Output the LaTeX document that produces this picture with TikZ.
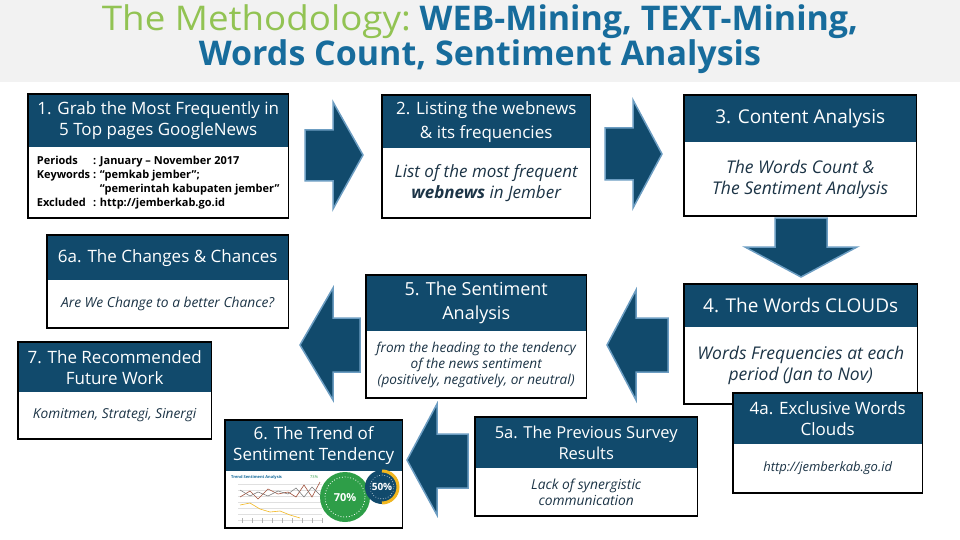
\documentclass[tikz,border=0pt]{standalone}
\usepackage{fontspec}
\setmainfont{Open Sans}
\usetikzlibrary{positioning}
\definecolor{cHead}{HTML}{114A6C}
\definecolor{cEdge}{HTML}{6C9DC2}
\definecolor{cTitleGreen}{HTML}{92C353}
\definecolor{cTitleBlue}{HTML}{176C9C}
\definecolor{cBody}{HTML}{1C3446}
\definecolor{cBand}{HTML}{F2F2F2}
\definecolor{cGreen}{HTML}{2E9E48}
\definecolor{cGold}{HTML}{F2B71F}
\definecolor{cLineRed}{HTML}{A0523D}

\tikzset{
  headbox/.style={fill=cHead, text=white, inner sep=2pt, align=center, anchor=north west,
    font=\fontsize{17}{21}\selectfont},
  bodybox/.style={fill=white, text=cBody, inner sep=2pt, align=center, below=0pt of #1,
    font=\fontsize{13.8}{16}\selectfont\itshape},
  frame/.style={draw=black, line width=1.8pt},
  blockarrow/.style={fill=cHead, draw=cEdge, line width=1.5pt, line join=miter},
}

\begin{document}
\begin{tikzpicture}[x=1pt, y=-1pt]
\useasboundingbox (0,0) rectangle (960,540);

% Title band
\fill[cBand] (0,0) rectangle (960,82);
\node[font=\fontsize{34}{36}\selectfont] (title1) at (480,22)
  {\textcolor{cTitleGreen}{\scalebox{1.08}[1]{The Methodology:}} \textcolor{cTitleBlue}{\bfseries WEB-Mining, TEXT-Mining,}};
\node[font=\fontsize{34}{36}\selectfont\bfseries, text=cTitleBlue] (title2) at (480,57)
  {Words Count, Sentiment Analysis};

% Block arrows
\draw[blockarrow] (305,130) -- (333,130) -- (333,102) -- (363,155) -- (333,209) -- (333,181) -- (305,181) -- cycle;
\draw[blockarrow] (605,128) -- (633,128) -- (633,100) -- (662,154) -- (633,208) -- (633,180) -- (605,180) -- cycle;
\draw[blockarrow] (775,218) -- (827,218) -- (827,247) -- (857,247) -- (801,277) -- (745,247) -- (775,247) -- cycle;
\draw[blockarrow] (668,318) -- (636,318) -- (636,290) -- (607,345) -- (636,400) -- (636,372) -- (668,372) -- cycle;
\draw[blockarrow] (360,318) -- (333,318) -- (333,288) -- (300,345) -- (333,400) -- (333,372) -- (360,372) -- cycle;
\draw[blockarrow] (468,434) -- (437,434) -- (437,404) -- (407,460) -- (437,515) -- (437,488) -- (468,488) -- cycle;

% 1. Grab
\node[headbox, minimum width=260pt, minimum height=53pt] (h1) at (28,94)
  {1. Grab the Most Frequently in\\5 Top pages GoogleNews};
\node[bodybox=h1, minimum width=260pt, minimum height=70pt, text=black,
  font=\fontsize{11}{14}\selectfont\bfseries] (b1)
  {\begin{tabular}{@{}l@{\ }l@{}}
   Periods & : January – November 2017\\
   Keywords & : “pemkab jember”;\\
            & \phantom{: }“pemerintah kabupaten jember”\\
   Excluded & : http://jemberkab.go.id
   \end{tabular}};
\draw[frame] (h1.north west) rectangle (b1.south east);

% 2. Listing
\node[headbox, minimum width=208pt, minimum height=53pt, font=\fontsize{17}{24}\selectfont] (h2) at (382,95)
  {2. Listing the webnews\\\& its frequencies};
\node[bodybox=h2, minimum width=208pt, minimum height=69pt, font=\fontsize{17}{21}\selectfont\itshape] (b2)
  {List of the most frequent\\\textbf{webnews} in Jember};
\draw[frame] (h2.north west) rectangle (b2.south east);

% 3. Content Analysis
\node[headbox, minimum width=232pt, minimum height=47pt, font=\fontsize{19}{23}\selectfont] (h3) at (684,95)
  {3. Content Analysis};
\node[bodybox=h3, minimum width=232pt, minimum height=73pt, font=\fontsize{17.5}{21}\selectfont\itshape] (b3)
  {The Words Count \&\\The Sentiment Analysis};
\draw[frame] (h3.north west) rectangle (b3.south east);

% 4. Words clouds
\node[headbox, minimum width=233pt, minimum height=43pt, font=\fontsize{19}{23}\selectfont] (h4) at (684,284)
  {4. The Words CLOUDs};
\node[bodybox=h4, minimum width=233pt, minimum height=76pt, font=\fontsize{17.5}{21}\selectfont\itshape] (b4)
  {Words Frequencies at each\\period (Jan to Nov)};
\draw[frame] (h4.north west) rectangle (b4.south east);

% 4a. Exclusive
\node[headbox, minimum width=189pt, minimum height=51pt] (h4a) at (733,393)
  {4a. Exclusive Words\\Clouds};
\node[bodybox=h4a, minimum width=189pt, minimum height=48pt, font=\fontsize{13}{16}\selectfont\itshape] (b4a)
  {http://jemberkab.go.id};
\draw[frame] (h4a.north west) rectangle (b4a.south east);

% 5. Sentiment
\node[headbox, minimum width=220pt, minimum height=56pt, font=\fontsize{18}{24}\selectfont] (h5) at (366,275)
  {5. The Sentiment\\Analysis};
\node[bodybox=h5, minimum width=220pt, minimum height=66pt, font=\fontsize{13.6}{16}\selectfont\itshape] (b5)
  {from the heading to the tendency\\of the news sentiment\\(positively, negatively, or neutral)};
\draw[frame] (h5.north west) rectangle (b5.south east);

% 6a. Changes
\node[headbox, minimum width=241pt, minimum height=45pt] (h6a) at (47,235)
  {6a. The Changes \& Chances};
\node[bodybox=h6a, minimum width=241pt, minimum height=47pt] (b6a)
  {Are We Change to a better Chance?};
\draw[frame] (h6a.north west) rectangle (b6a.south east);

% 7. Future work
\node[headbox, minimum width=193pt, minimum height=50pt] (h7) at (18,342)
  {7. The Recommended\\Future Work};
\node[bodybox=h7, minimum width=193pt, minimum height=46pt, font=\fontsize{13.7}{16}\selectfont\itshape] (b7)
  {Komitmen, Strategi, Sinergi};
\draw[frame] (h7.north west) rectangle (b7.south east);

% 6. Trend
\node[headbox, minimum width=177pt, minimum height=51pt] (h6) at (225,420)
  {6. The Trend of\\Sentiment Tendency};
\node[bodybox=h6, minimum width=177pt, minimum height=56pt] (b6) {};
% small chart
\node[anchor=west, font=\fontsize{4}{5}\selectfont\bfseries, text=cTitleBlue, inner sep=0pt] (charttitle) at (231,477) {Trend Sentiment Analysis};
\node[anchor=west, font=\fontsize{4}{5}\selectfont, text=cGreen, inner sep=0pt] (chartpct) at (310,477) {73\%};
\foreach \y in {484,490,...,520} {
  \draw[black!12, line width=0.3pt] (238,\y) -- (322,\y);
}
\foreach \x in {242,252,...,322} {
  \draw[black!30, line width=0.3pt] (\x,518) -- (\x,523);
}
\draw[cLineRed, line width=0.6pt] plot coordinates {(240,497) (250,491) (258,499) (268,489) (278,494) (288,492) (296,497) (304,485) (312,497) (320,482)};
\draw[black!55, line width=0.5pt] plot coordinates {(240,490) (250,496) (258,492) (268,496) (278,491) (288,494) (296,488) (304,497) (312,487) (320,495)};
\draw[cGold, line width=0.6pt] plot coordinates {(240,505) (250,503) (260,509) (270,512) (280,511) (290,515) (300,518)};
\fill[cGreen] (345,497) circle (25pt);
\draw[white, dotted, line width=0.8pt] (345,497) circle (20pt);
\node[text=white, font=\fontsize{11}{13}\selectfont\bfseries] (pct70) at (345,498) {70\%};
\fill[cHead] (382,487) circle (17pt);
\draw[cGold, line width=3pt] (382,471) arc[start angle=90, end angle=-90, radius=16pt];
\draw[white, dotted, line width=0.6pt] (382,487) circle (12pt);
\node[text=white, font=\fontsize{10}{12}\selectfont\bfseries] (pct50) at (382,487) {50\%};
\draw[frame] (h6.north west) rectangle (b6.south east);

% 5a. Survey
\node[headbox, minimum width=222pt, minimum height=51pt, font=\fontsize{16.5}{21}\selectfont] (h5a) at (475,417)
  {5a. The Previous Survey\\Results};
\node[bodybox=h5a, minimum width=222pt, minimum height=47pt] (b5a)
  {Lack of synergistic\\communication};
\draw[frame] (h5a.north west) rectangle (b5a.south east);

\end{tikzpicture}
\end{document}
